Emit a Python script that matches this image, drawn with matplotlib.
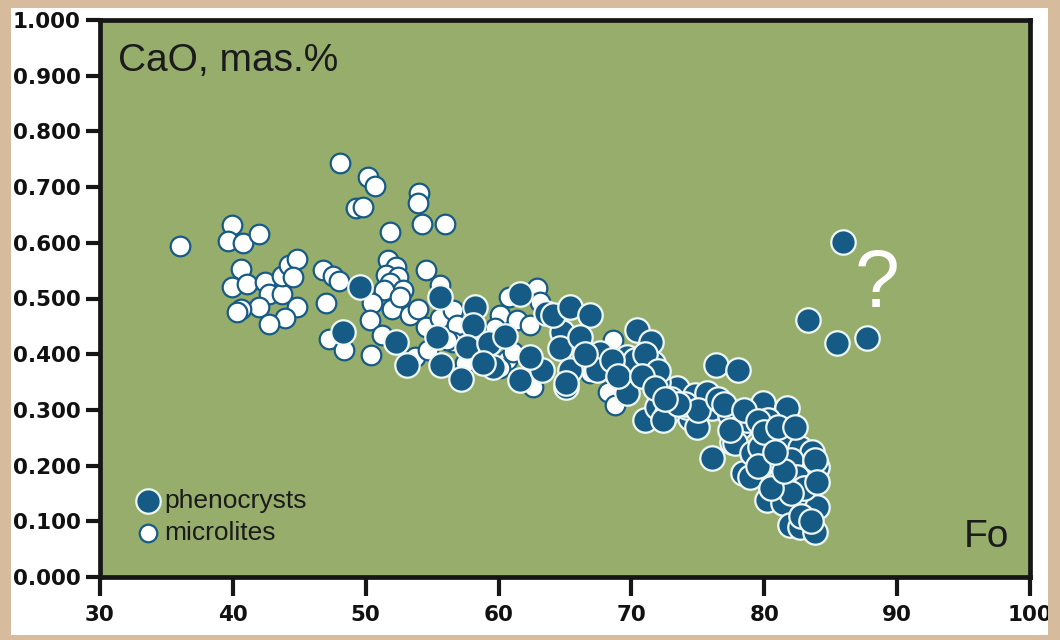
import numpy as np
import matplotlib.pyplot as plt
from matplotlib.patches import Rectangle
from matplotlib.ticker import FormatStrFormatter

# olivine phenocrysts: Fo content vs CaO (mas.%)
pheno_fo = [
    48.3, 49.6, 52.3, 53.1, 55.6, 55.4, 55.7, 57.2, 58.2, 58.1,
    57.6, 59.3, 60.5, 61.6, 61.6, 63.6, 63.3, 62.4, 64.8, 64.1,
    65.4, 66.9, 64.6, 65.4, 65.1, 66.1, 67.6, 67.4, 69.7, 69.7,
    70.4, 59.6, 58.8, 65.1,
    71.5, 71.6, 70.3, 71.0, 71.9, 73.4, 74.8, 74.4, 76.4, 78.0,
    76.1, 77.4, 78.2, 77.6, 76.1, 78.4, 75.7, 74.2, 72.7, 72.4,
    78.7, 79.9, 81.7, 80.3, 77.8, 80.3, 81.7, 82.7, 80.9, 83.4,
    79.1, 77.4, 74.9,
    83.6, 83.2, 81.2, 80.2, 81.4, 83.2, 84.0, 81.9, 82.7, 83.8,
    78.9, 84.0, 79.7,
    72.0, 73.0, 74.0, 75.0, 76.5, 77.0, 78.5, 79.5, 80.0, 81.0,
    82.0, 82.5, 83.0, 82.0, 80.5, 81.5, 79.5, 80.8, 82.3, 83.8,
    84.0, 82.8, 83.5, 66.5, 68.5, 69.0, 71.0, 72.0, 70.8, 71.8,
    73.5, 72.5,
    85.9, 83.3, 85.5, 87.7,
]
pheno_cao = [
    0.440, 0.521, 0.422, 0.380, 0.503, 0.431, 0.381, 0.355, 0.485, 0.452,
    0.413, 0.420, 0.432, 0.508, 0.354, 0.474, 0.372, 0.395, 0.440, 0.470,
    0.485, 0.470, 0.411, 0.372, 0.341, 0.431, 0.402, 0.372, 0.395, 0.330,
    0.443, 0.377, 0.384, 0.348,
    0.422, 0.384, 0.390, 0.282, 0.305, 0.339, 0.327, 0.285, 0.381, 0.372,
    0.303, 0.291, 0.270, 0.242, 0.213, 0.186, 0.330, 0.305, 0.294, 0.282,
    0.282, 0.312, 0.303, 0.282, 0.241, 0.242, 0.251, 0.232, 0.210, 0.197,
    0.223, 0.264, 0.269,
    0.224, 0.180, 0.174, 0.138, 0.133, 0.129, 0.126, 0.093, 0.090, 0.081,
    0.180, 0.197, 0.233,
    0.350, 0.320, 0.310, 0.300, 0.320, 0.310, 0.300, 0.280, 0.260, 0.270,
    0.210, 0.180, 0.160, 0.150, 0.160, 0.190, 0.200, 0.225, 0.270, 0.210,
    0.170, 0.110, 0.100, 0.400, 0.390, 0.360, 0.400, 0.370, 0.360, 0.340,
    0.310, 0.320,
    0.601, 0.461, 0.420, 0.429,
]

# groundmass microlites
micro_fo = [
    36.0, 39.9, 39.6, 40.8, 42.0, 40.6, 39.9, 41.1, 42.4, 42.7,
    43.7, 43.7, 44.2, 44.8, 44.5, 42.0, 40.6, 40.3, 44.8, 43.9,
    42.7,
    46.8, 47.5, 48.0, 47.0, 47.2, 48.4, 48.1, 50.2, 50.7, 49.3,
    49.8, 54.0, 53.9, 51.8, 54.2, 56.0,
    51.7, 52.3, 51.5, 52.4, 51.8, 52.8, 51.4, 54.5, 55.6, 50.5,
    50.3, 52.0, 52.6, 53.3, 53.9, 54.5, 55.6, 56.6, 56.9, 56.6,
    50.4, 51.2, 53.7, 54.7, 57.5, 56.1, 58.6,
    60.8, 62.9, 63.1, 60.1, 61.4, 62.4, 59.1, 60.6, 62.6, 59.7,
    61.1, 60.1, 66.9, 68.5, 68.2, 68.8, 68.6,
]
micro_cao = [
    0.594, 0.632, 0.603, 0.600, 0.616, 0.553, 0.521, 0.526, 0.530, 0.508,
    0.508, 0.540, 0.560, 0.571, 0.539, 0.485, 0.481, 0.476, 0.485, 0.465,
    0.454,
    0.551, 0.540, 0.531, 0.492, 0.427, 0.408, 0.743, 0.718, 0.702, 0.662,
    0.665, 0.690, 0.672, 0.620, 0.634, 0.634,
    0.569, 0.557, 0.542, 0.539, 0.528, 0.515, 0.515, 0.551, 0.524, 0.492,
    0.461, 0.481, 0.503, 0.470, 0.481, 0.449, 0.465, 0.479, 0.452, 0.422,
    0.399, 0.434, 0.395, 0.408, 0.384, 0.426, 0.438,
    0.503, 0.519, 0.494, 0.470, 0.461, 0.452, 0.393, 0.390, 0.341, 0.447,
    0.404, 0.375, 0.366, 0.372, 0.332, 0.309, 0.426,
]

x_ticks = [30, 40, 50, 60, 70, 80, 90, 100]
y_ticks = np.arange(0, 1.01, 0.1)

green = "#97ad6c"
blue = "#165b86"
tan = "#d6bb9c"

fig = plt.figure(figsize=(10.6, 6.4), dpi=100)
fig.patch.set_facecolor("white")
ax = fig.add_axes([100 / 1060, 63 / 640, 930 / 1060, 557 / 640])
ax.set_facecolor(green)

ax.scatter(micro_fo, micro_cao, s=200, c="white", edgecolors=blue,
           linewidths=1.6, label="microlites", zorder=2)
ax.scatter(pheno_fo, pheno_cao, s=310, c=blue, edgecolors="#eef7f3",
           linewidths=1.6, label="phenocrysts", zorder=3)

ax.set_xlim(30, 100)
ax.set_ylim(0, 1.0)
ax.set_xticks(x_ticks)
ax.set_yticks(y_ticks)
ax.yaxis.set_major_formatter(FormatStrFormatter("%.3f"))

for sp in ax.spines.values():
    sp.set_linewidth(3.4)
    sp.set_color("#161616")
ax.tick_params(axis="y", length=10, width=3, pad=4, color="#161616")
ax.tick_params(axis="x", length=14, width=3, pad=6, color="#161616")
for lab in ax.get_xticklabels() + ax.get_yticklabels():
    lab.set_fontfamily("DejaVu Sans")
    lab.set_fontweight("bold")
    lab.set_fontsize(15.5)
    lab.set_color("#111111")

ax.text(0.019, 0.908, "CaO, mas.%", transform=ax.transAxes, fontsize=28,
        family="Liberation Sans", color="#1b1b1b", va="baseline", ha="left")
ax.text(0.978, 0.054, "Fo", transform=ax.transAxes, fontsize=28,
        family="Liberation Sans", color="#1b1b1b", va="baseline", ha="right")
ax.text(0.835, 0.522, "?", transform=ax.transAxes, fontsize=58,
        family="Liberation Sans", color="white", va="center", ha="center")

handles, labels = ax.get_legend_handles_labels()
leg = ax.legend(handles[::-1], labels[::-1], loc="lower left",
                bbox_to_anchor=(0.035, 0.058), frameon=False,
                prop={"family": "Liberation Sans", "size": 19},
                handletextpad=0.0, labelspacing=0.3, borderpad=0,
                borderaxespad=0, handlelength=1.2)
leg.legend_handles[1].set_sizes([160])
for t in leg.get_texts():
    t.set_color("#1b1b1b")

# tan frame drawn over everything
frame = [
    (0, 0, 11 / 1060, 1),
    (1048 / 1060, 0, 12 / 1060, 1),
    (0, 0, 1, 5 / 640),
    (0, 632 / 640, 1, 8 / 640),
]
for x0, y0, w, h in frame:
    fig.patches.append(Rectangle((x0, y0), w, h, transform=fig.transFigure,
                                 facecolor=tan, edgecolor="none", zorder=20))

fig.savefig("out.png", dpi=100, facecolor=fig.get_facecolor())
